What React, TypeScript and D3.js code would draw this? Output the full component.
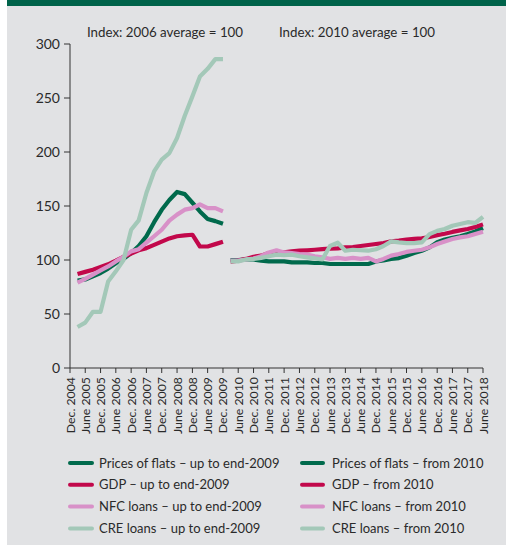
import React from "react";
import * as d3 from "d3";

const quartersPre = [
  "2005-03","2005-06","2005-09","2005-12","2006-03","2006-06","2006-09","2006-12",
  "2007-03","2007-06","2007-09","2007-12","2008-03","2008-06","2008-09","2008-12",
  "2009-03","2009-06","2009-09","2009-12",
];
const quartersPost = [
  "2010-03","2010-06","2010-09","2010-12","2011-03","2011-06","2011-09","2011-12",
  "2012-03","2012-06","2012-09","2012-12","2013-03","2013-06","2013-09","2013-12",
  "2014-03","2014-06","2014-09","2014-12","2015-03","2015-06","2015-09","2015-12",
  "2016-03","2016-06","2016-09","2016-12","2017-03","2017-06","2017-09","2017-12",
  "2018-03","2018-06",
];

const flatsPre = [81,82,85,88,92,97,101,106.5,113,122,135,146.5,155.5,163,161,153,145,138,136,133.5];
const gdpPre = [87,89,91,93.5,96,99.4,103,106,109,111,114,117,120,122,122.8,123.4,112.5,112.5,114.7,117];
const nfcPre = [79,82.5,86.5,90.4,94,98.7,103,108,110,116,122,128,136.5,142,146.6,148,151.5,148,148,145];
const crePre = [38,42,52,52,80,89.5,100,128,136.7,162,182,193,199,213,233.6,251.5,270,277,286,286];

const flatsPost = [100,100,100.5,100.5,99.4,98.7,98.7,98.7,97.8,97.8,97.8,97.2,97.2,96.3,96.3,96.3,96.3,96.3,96.3,98.7,99.6,101,101.8,104,106.5,108.6,111.7,116.5,119,120.5,122,124,126.5,129.6];
const gdpPost = [98.4,99.4,101,103,104,106.5,107,107,108,108.6,109,109.5,110,110.5,110.8,111.7,112,113,113.9,114.8,115.7,117.2,118,119,119.5,120,121.3,123,124.3,126,127.4,128.7,130.5,133];
const nfcPost = [99.4,99.4,100.5,101.4,103.5,107,109,107,106.5,105.5,105,103.5,102.5,101,102,101,102,101,102,98.7,101,104,105.5,107.5,108.6,109.5,111.7,114.8,117.2,119.5,121,122,124,126.2];
const crePost = [98.7,98.7,100.5,101,102,103.5,105,104.4,105,103.5,102.5,101.5,100.5,113,116,108.6,109.5,109,108.6,110,113,117.2,116.3,115.7,115.7,116.3,124,127,128.7,131.7,133.3,135,134.3,140];

const xTickLabels = [
  "Dec. 2004","June 2005","Dec. 2005","June 2006","Dec. 2006","June 2007","Dec. 2007",
  "June 2008","Dec. 2008","June 2009","Dec. 2009","June 2010","Dec. 2010","June 2011",
  "Dec. 2011","June 2012","Dec. 2012","June 2013","Dec. 2013","June 2014","Dec. 2014",
  "June 2015","Dec. 2015","June 2016","Dec. 2016","June 2017","Dec. 2017","June 2018",
];
const yTicks = [0, 50, 100, 150, 200, 250, 300];

const seriesNames = ["Prices of flats", "GDP", "NFC loans", "CRE loans"];
const colors = ["#006A4C", "#C2084B", "#D891C8", "#A3C8B8"];
const titles = ["Index: 2006 average = 100", "Index: 2010 average = 100"];

const FONT = "Lato, 'Liberation Sans', sans-serif";

export default function App() {
  const W = 506, H = 546;
  const parse = d3.timeParse("%Y-%m");
  const x = d3.scaleTime().domain([parse("2004-12")!, parse("2018-06")!]).range([70, 483]);
  const y = d3.scaleLinear().domain([0, 300]).range([368, 44]);

  const tickDates = xTickLabels.map((l) => {
    const [m, yr] = l.split(" ");
    return parse(`${yr}-${m.startsWith("Dec") ? "12" : "06"}`)!;
  });

  const pre = [flatsPre, gdpPre, nfcPre, crePre];
  const post = [flatsPost, gdpPost, nfcPost, crePost];

  const line = d3
    .line<[Date, number]>()
    .x((d) => x(d[0]))
    .y((d) => y(d[1]))
    .curve(d3.curveLinear);

  const mk = (qs: string[], vals: number[]) =>
    line(qs.map((q, i) => [parse(q)!, vals[i]] as [Date, number])) || "";

  const legendRows = seriesNames.map((n, i) => i);

  return (
    <svg width={W} height={H} style={{ position: "absolute", left: 0, top: 0 }} fontFamily={FONT}>
      <rect x={0} y={0} width={W} height={H} fill="#ffffff" />
      <rect x={7} y={0} width={W - 7} height={545} fill="#E1E2E4" />
      <rect x={7} y={0} width={W - 7} height={6} fill="#00634A" />

      <text x={87} y={37} fontSize={13.3} fill="#2a2a2a">{titles[0]}</text>
      <text x={279} y={37} fontSize={13.3} fill="#2a2a2a">{titles[1]}</text>

      {/* y axis */}
      <line x1={70} x2={70} y1={y(300)} y2={y(0)} stroke="#333" strokeWidth={1} />
      {yTicks.map((t) => (
        <g key={t}>
          <line x1={64} x2={70} y1={y(t)} y2={y(t)} stroke="#333" strokeWidth={1} />
          <text x={60} y={y(t)} dy="0.35em" textAnchor="end" fontSize={14} fill="#2a2a2a">{t}</text>
        </g>
      ))}

      {/* x axis */}
      <line x1={70} x2={483} y1={y(0)} y2={y(0)} stroke="#333" strokeWidth={1} />
      {tickDates.map((d, i) => (
        <g key={i}>
          <line x1={x(d)} x2={x(d)} y1={y(0)} y2={y(0) + 5} stroke="#333" strokeWidth={1} />
          <text
            transform={`translate(${x(d) + 4.5},${y(0) + 9}) rotate(-90)`}
            textAnchor="end"
            fontSize={12.3}
            fill="#2a2a2a"
          >
            {xTickLabels[i]}
          </text>
        </g>
      ))}

      {/* lines */}
      {pre.map((vals, i) => (
        <path key={"a" + i} d={mk(quartersPre, vals)} fill="none" stroke={colors[i]} strokeWidth={4.2} strokeLinejoin="round" />
      ))}
      {post.map((vals, i) => (
        <path key={"b" + i} d={mk(quartersPost, vals)} fill="none" stroke={colors[i]} strokeWidth={4.2} strokeLinejoin="round" />
      ))}

      {/* legend */}
      {legendRows.map((i) => (
        <g key={"l" + i} transform={`translate(0,${463 + i * 21.8})`}>
          <line x1={70} x2={92} y1={0} y2={0} stroke={colors[i]} strokeWidth={4} strokeLinecap="round" />
          <text x={99} y={0} dy="0.35em" fontSize={13} fill="#2a2a2a">
            {`${seriesNames[i]} – up to end-2009`}
          </text>
          <line x1={302} x2={323} y1={0} y2={0} stroke={colors[i]} strokeWidth={4} strokeLinecap="round" />
          <text x={332} y={0} dy="0.35em" fontSize={13} fill="#2a2a2a">
            {`${seriesNames[i]} – from 2010`}
          </text>
        </g>
      ))}
    </svg>
  );
}
